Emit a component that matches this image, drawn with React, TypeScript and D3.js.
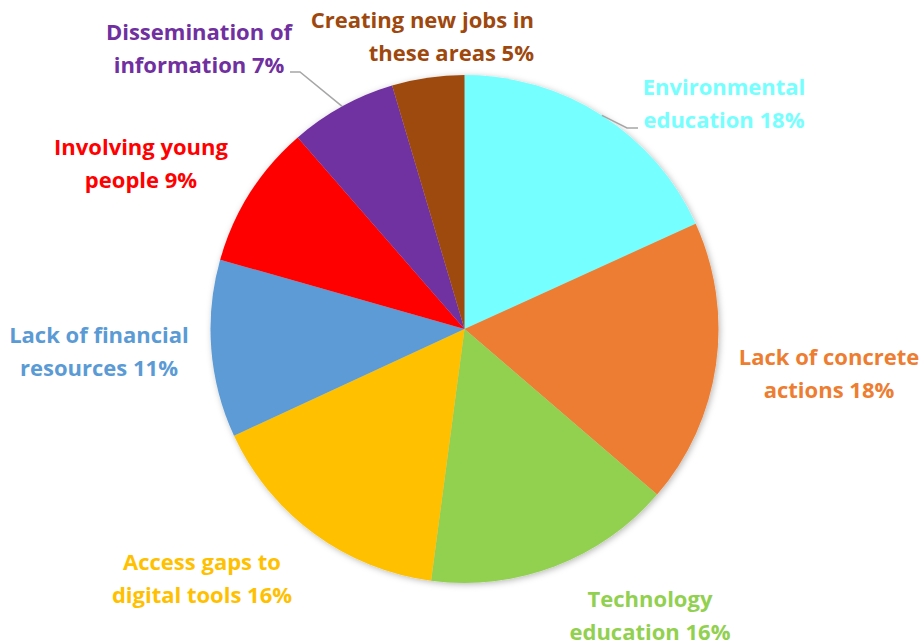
import React from "react";
import * as d3 from "d3";

// ---- data ----
const categories: string[] = [
  "Environmental education",
  "Lack of concrete actions",
  "Technology education",
  "Access gaps to digital tools",
  "Lack of financial resources",
  "Involving young people",
  "Dissemination of information",
  "Creating new jobs in these areas",
];
const values: number[] = [18.2, 18.1, 15.8, 16.0, 11.3, 9.2, 6.8, 4.6];
const labelLines: string[][] = [
  ["Environmental", "education"],
  ["Lack of concrete", "actions"],
  ["Technology", "education"],
  ["Access gaps to", "digital tools"],
  ["Lack of financial", "resources"],
  ["Involving young", "people"],
  ["Dissemination of", "information"],
  ["Creating new jobs in", "these areas"],
];
const colors: string[] = [
  "#75FFFF",
  "#ED7D31",
  "#92D050",
  "#FFC000",
  "#5B9BD5",
  "#FF0000",
  "#7030A0",
  "#9E480E",
];

// ---- layout (label positions / leader lines) ----
const W = 924;
const H = 644;
const CX = 464.5;
const CY = 329;
const R = 254;
const FONT = "'Open Sans', 'Noto Sans', sans-serif";
const FONT_SIZE = 22;
const LINE_GAP = 32.5;
type LabelPos = { x: number; y: number; anchor: "start" | "middle" | "end"; leader?: [number, number][] };
const labelPos: LabelPos[] = [
  { x: 724, y: 95, anchor: "middle", leader: [[638, 128], [627, 128]] },
  { x: 829, y: 365, anchor: "middle" },
  { x: 650, y: 607, anchor: "middle" },
  { x: 202, y: 570, anchor: "middle" },
  { x: 99, y: 343, anchor: "middle" },
  { x: 141, y: 155, anchor: "middle" },
  { x: 199, y: 40, anchor: "middle", leader: [[290, 72], [300, 72]] },
  { x: 534, y: 28, anchor: "end" },
];

export default function App() {
  const pie = d3
    .pie<number>()
    .sort(null)
    .value((d) => d)
    .startAngle(0)
    .endAngle(2 * Math.PI);
  const arcs = pie(values);
  const arcGen = d3.arc<d3.PieArcDatum<number>>().innerRadius(0).outerRadius(R);
  const total = d3.sum(values);

  return (
    <svg
      width={W}
      height={H}
      style={{ position: "absolute", left: 0, top: 0, background: "#fff" }}
      fontFamily={FONT}
    >
      <defs>
        <filter id="shadow" x="-10%" y="-10%" width="120%" height="120%">
          <feDropShadow dx="1.5" dy="1.5" stdDeviation="3" floodColor="#000" floodOpacity="0.28" />
        </filter>
      </defs>
      <g transform={`translate(${CX},${CY})`} filter="url(#shadow)">
        {arcs.map((a, i) => (
          <path key={categories[i]} d={arcGen(a) || ""} fill={colors[i]} />
        ))}
      </g>
      {arcs.map((a, i) => {
        const p = labelPos[i];
        if (!p.leader) return null;
        const mid = (a.startAngle + a.endAngle) / 2;
        const ex = CX + R * Math.sin(mid);
        const ey = CY - R * Math.cos(mid);
        const pts = [...p.leader, [ex, ey]] as [number, number][];
        return (
          <path
            key={"l" + i}
            d={d3.line()(pts) || ""}
            fill="none"
            stroke="#A6A6A6"
            strokeWidth={1.5}
          />
        );
      })}
      {arcs.map((a, i) => {
        const p = labelPos[i];
        const pct = Math.round((values[i] / total) * 100);
        const lines = [...labelLines[i]];
        lines[lines.length - 1] = lines[lines.length - 1] + " " + pct + "%";
        return (
          <text
            key={"t" + i}
            textAnchor={p.anchor}
            fill={colors[i]}
            fontSize={FONT_SIZE}
            fontWeight="bold"
          >
            {lines.map((ln, j) => (
              <tspan key={j} x={p.x} y={p.y + j * LINE_GAP}>
                {ln}
              </tspan>
            ))}
          </text>
        );
      })}
    </svg>
  );
}
